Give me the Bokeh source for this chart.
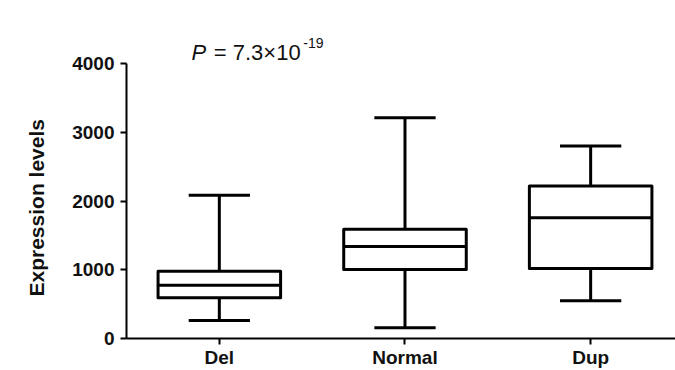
from bokeh.plotting import figure
from bokeh.models import Range1d, FixedTicker, Label, Title
from bokeh.embed import file_html
from bokeh.resources import INLINE

# ---- data ----
categories = ["Del", "Normal", "Dup"]
whisker_low = [262, 158, 549]
q1 = [592, 1004, 1018]
median = [774, 1338, 1758]
q3 = [979, 1591, 2222]
whisker_high = [2087, 3216, 2804]
y_ticks = [0, 1000, 2000, 3000, 4000]
y_title = "Expression levels"
p_prefix = "P"
p_value = "= 7.3×10"
p_exponent = "-19"

# ---- styling ----
FONT = "Liberation Sans"
BOX_W = 0.66
CAP_W = 0.33
LW = 3

xs = [i + 1 for i in range(len(categories))]

p = figure(width=675, height=370,
           x_range=Range1d(0.5, 3.457), y_range=Range1d(0, 4922),
           output_backend="svg", toolbar_location=None,
           min_border_left=125, min_border_right=0,
           min_border_top=0, min_border_bottom=27)
p.outline_line_color = None
p.xgrid.visible = False
p.ygrid.visible = False
p.background_fill_color = "white"
p.border_fill_color = "white"

# whiskers
p.segment(x0=xs, y0=q3, x1=xs, y1=whisker_high, line_color="black", line_width=LW)
p.segment(x0=xs, y0=q1, x1=xs, y1=whisker_low, line_color="black", line_width=LW)
# caps
p.segment(x0=[x - CAP_W / 2 for x in xs], y0=whisker_high,
          x1=[x + CAP_W / 2 for x in xs], y1=whisker_high,
          line_color="black", line_width=LW)
p.segment(x0=[x - CAP_W / 2 for x in xs], y0=whisker_low,
          x1=[x + CAP_W / 2 for x in xs], y1=whisker_low,
          line_color="black", line_width=LW)
# boxes
p.vbar(x=xs, width=BOX_W, bottom=q1, top=q3, fill_color="white",
       line_color="black", line_width=LW, line_join="round")
# medians
p.segment(x0=[x - BOX_W / 2 for x in xs], y0=median,
          x1=[x + BOX_W / 2 for x in xs], y1=median,
          line_color="black", line_width=LW)

# axes
xa = p.xaxis[0]
xa.ticker = FixedTicker(ticks=xs)
xa.major_label_overrides = {x: c for x, c in zip(xs, categories)}
xa.minor_tick_line_color = None
xa.major_tick_out = 6
xa.major_tick_in = 0
xa.major_label_standoff = 2
xa.axis_line_width = 2
xa.major_tick_line_width = 2
xa.major_label_text_font = FONT
xa.major_label_text_font_style = "bold"
xa.major_label_text_font_size = "19px"
xa.major_label_text_color = "#111111"

ya = p.yaxis[0]
ya.ticker = FixedTicker(ticks=y_ticks)
ya.bounds = (y_ticks[0], y_ticks[-1])
ya.minor_tick_line_color = None
ya.major_tick_out = 6
ya.major_tick_in = 0
ya.major_label_standoff = 6
ya.axis_label_standoff = 0
ya.axis_line_width = 2
ya.major_tick_line_width = 2
ya.major_label_text_font = FONT
ya.major_label_text_font_style = "bold"
ya.major_label_text_font_size = "19px"
ya.major_label_text_color = "#111111"

# y-axis title as a vertical side title
p.add_layout(Title(text=y_title, align="left", offset=42, standoff=44,
                   text_font=FONT, text_font_style="bold", text_font_size="21px",
                   text_color="#111111"), "left")

# P-value annotation
common = dict(text_font=FONT, text_color="#111111", text_baseline="alphabetic")
p.add_layout(Label(x=0.85, y=4162, text=p_prefix, text_font_style="italic",
                   text_font_size="22px", **common))
p.add_layout(Label(x=0.97, y=4162, text=p_value, text_font_size="22px", **common))
p.add_layout(Label(x=1.452, y=4300, text=p_exponent, text_font_size="14px", **common))

open("out.html", "w").write(file_html(p, INLINE))
